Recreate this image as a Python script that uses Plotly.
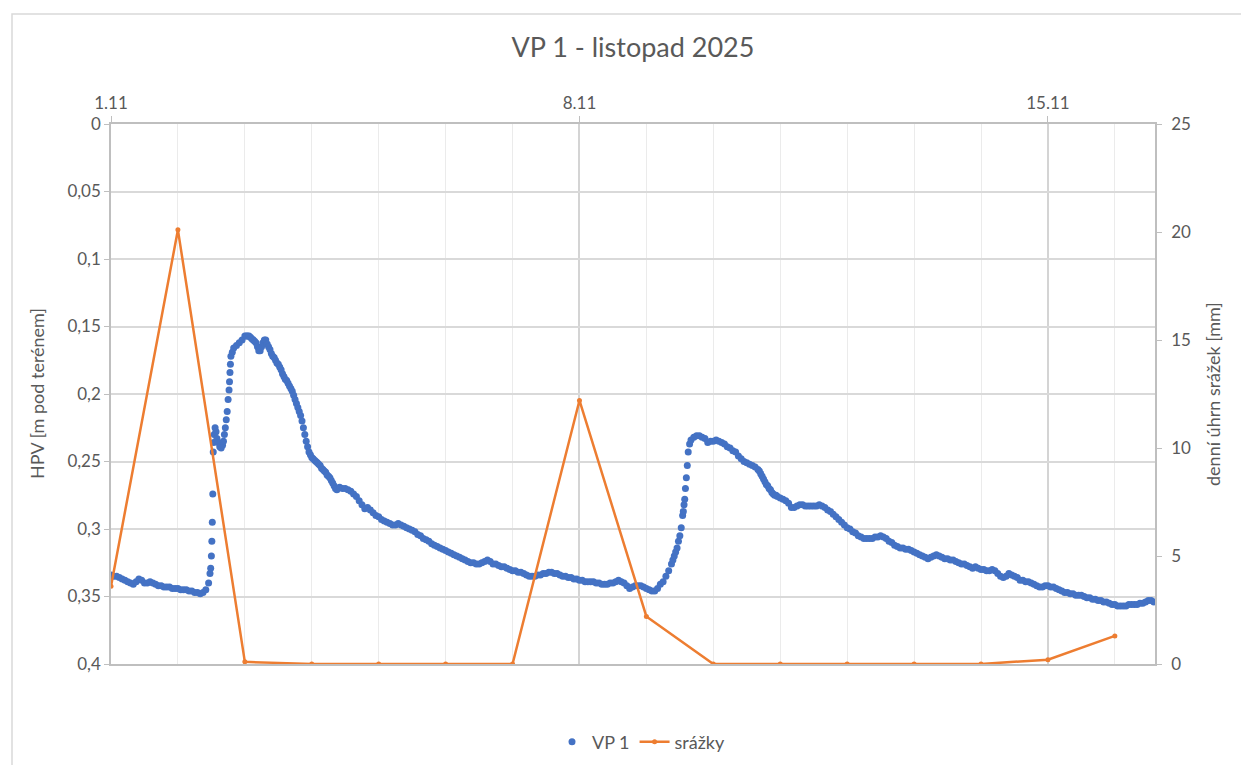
import pandas as pd
import plotly.graph_objects as go

# --- data -------------------------------------------------------------
start = pd.Timestamp("2025-11-01 00:00")

# hourly groundwater level readings for VP 1 [m below ground], one row per day
hpv_hourly = [
    0.334, 0.335, 0.335, 0.336, 0.337, 0.338, 0.339, 0.340, 0.341, 0.339, 0.337, 0.338, 0.340, 0.340, 0.339, 0.340, 0.341, 0.342, 0.342, 0.343, 0.343, 0.343, 0.344, 0.344,
    0.344, 0.345, 0.345, 0.345, 0.346, 0.346, 0.347, 0.347, 0.348, 0.347, 0.345, 0.340, 0.320, 0.230, 0.233, 0.239, 0.238, 0.225, 0.204, 0.172, 0.166, 0.164, 0.162, 0.160,
    0.157, 0.157, 0.158, 0.160, 0.162, 0.168, 0.165, 0.160, 0.163, 0.167, 0.172, 0.175, 0.178, 0.182, 0.187, 0.190, 0.194, 0.198, 0.204, 0.210, 0.216, 0.225, 0.235, 0.243,
    0.247, 0.249, 0.251, 0.253, 0.256, 0.258, 0.261, 0.264, 0.268, 0.271, 0.269, 0.270, 0.270, 0.271, 0.272, 0.274, 0.276, 0.279, 0.282, 0.285, 0.284, 0.286, 0.288, 0.290,
    0.291, 0.293, 0.294, 0.295, 0.296, 0.297, 0.297, 0.296, 0.297, 0.298, 0.299, 0.300, 0.301, 0.302, 0.304, 0.305, 0.307, 0.308, 0.309, 0.311, 0.312, 0.313, 0.314, 0.315,
    0.316, 0.317, 0.318, 0.319, 0.320, 0.321, 0.322, 0.323, 0.324, 0.325, 0.325, 0.326, 0.326, 0.325, 0.324, 0.323, 0.324, 0.326, 0.326, 0.327, 0.328, 0.328, 0.329, 0.330,
    0.331, 0.331, 0.332, 0.332, 0.333, 0.334, 0.335, 0.335, 0.335, 0.334, 0.334, 0.333, 0.333, 0.332, 0.332, 0.333, 0.333, 0.334, 0.335, 0.335, 0.336, 0.336, 0.337, 0.337,
    0.338, 0.338, 0.339, 0.339, 0.339, 0.339, 0.340, 0.340, 0.341, 0.341, 0.341, 0.340, 0.340, 0.339, 0.338, 0.339, 0.340, 0.342, 0.344, 0.343, 0.342, 0.342, 0.342, 0.343,
    0.344, 0.345, 0.346, 0.346, 0.344, 0.341, 0.339, 0.335, 0.331, 0.326, 0.320, 0.314, 0.305, 0.290, 0.270, 0.243, 0.234, 0.232, 0.231, 0.231, 0.232, 0.233, 0.236, 0.235,
    0.235, 0.234, 0.235, 0.236, 0.237, 0.239, 0.240, 0.242, 0.243, 0.246, 0.248, 0.250, 0.251, 0.252, 0.253, 0.254, 0.256, 0.259, 0.263, 0.267, 0.270, 0.273, 0.275, 0.276,
    0.277, 0.278, 0.279, 0.281, 0.284, 0.284, 0.283, 0.282, 0.282, 0.283, 0.283, 0.283, 0.283, 0.283, 0.282, 0.283, 0.284, 0.286, 0.287, 0.289, 0.291, 0.293, 0.295, 0.297,
    0.299, 0.300, 0.302, 0.303, 0.305, 0.306, 0.307, 0.307, 0.307, 0.307, 0.306, 0.306, 0.305, 0.306, 0.307, 0.309, 0.310, 0.312, 0.313, 0.314, 0.314, 0.315, 0.315, 0.316,
    0.317, 0.318, 0.319, 0.320, 0.321, 0.322, 0.321, 0.320, 0.319, 0.320, 0.321, 0.322, 0.322, 0.323, 0.323, 0.324, 0.325, 0.326, 0.326, 0.327, 0.328, 0.329, 0.328, 0.329,
    0.330, 0.330, 0.331, 0.331, 0.330, 0.331, 0.333, 0.335, 0.336, 0.335, 0.333, 0.334, 0.335, 0.336, 0.338, 0.338, 0.339, 0.339, 0.340, 0.341, 0.342, 0.343, 0.343, 0.342,
    0.342, 0.343, 0.343, 0.344, 0.345, 0.346, 0.347, 0.347, 0.348, 0.348, 0.349, 0.349, 0.349, 0.350, 0.351, 0.351, 0.352, 0.352, 0.353, 0.353, 0.354, 0.354, 0.355, 0.356,
    0.356, 0.357, 0.357, 0.357, 0.357, 0.356, 0.356, 0.356, 0.356, 0.355, 0.355, 0.354, 0.353, 0.353, 0.354,
]

# denser readings logged during the rapid changes (hours since 1.11 00:00)
rise_hours = [35.5, 35.75, 36.17, 36.33, 36.5, 36.67, 36.83, 37.33, 37.67, 38.5, 39.5,
              40.33, 40.67, 41.33, 41.67, 42.33, 42.5, 42.67, 42.83, 43.5,
              48.5, 49.5, 50.5, 51.5, 52.5, 53.5, 54.5, 55.5, 56.5, 57.5, 58.5, 59.5,
              60.5, 61.5, 62.5, 63.5, 64.5, 65.5, 66.5, 67.5, 68.5, 69.5, 70.5, 71.5,
              72.5, 73.5, 74.5, 75.5, 76.5, 77.5, 78.5, 79.5, 80.5,
              201.5, 202.5, 203.5, 204.5, 205.25, 205.5, 205.75, 206.33, 206.67, 207.5,
              232.5, 233.5, 234.5, 235.5, 236.5, 237.5, 238.5]
rise_hpv = [0.333, 0.329, 0.309, 0.295, 0.274, 0.243, 0.236, 0.225, 0.228, 0.236, 0.240,
            0.235, 0.230, 0.219, 0.213, 0.197, 0.191, 0.184, 0.178, 0.169,
            0.157, 0.157, 0.159, 0.161, 0.165, 0.168, 0.162, 0.160, 0.165, 0.170, 0.173, 0.177,
            0.180, 0.185, 0.189, 0.192, 0.196, 0.201, 0.207, 0.213, 0.220, 0.230, 0.239, 0.245,
            0.248, 0.250, 0.252, 0.255, 0.257, 0.260, 0.262, 0.266, 0.270,
            0.323, 0.317, 0.309, 0.299, 0.287, 0.282, 0.278, 0.262, 0.253, 0.237,
            0.257, 0.261, 0.265, 0.268, 0.271, 0.274, 0.275]

# daily precipitation totals [mm], 1.11 – 16.11
srazky_mm = [3.6, 20.1, 0.1, 0.0, 0.0, 0.0, 0.0, 12.2, 2.2, 0.0, 0.0, 0.0, 0.0, 0.0, 0.2, 1.3]

hpv_ticks = [0, 0.05, 0.1, 0.15, 0.2, 0.25, 0.3, 0.35, 0.4]

# --- assemble series ---------------------------------------------------
vp = pd.DataFrame({
    "t": [start + pd.Timedelta(hours=h) for h in range(len(hpv_hourly))]
         + [start + pd.Timedelta(hours=h) for h in rise_hours],
    "hpv": hpv_hourly + rise_hpv,
}).sort_values("t")

days = [start + pd.Timedelta(days=i) for i in range(len(srazky_mm))]

GREY_TXT = "#595959"
FONT = "Lato, 'Open Sans', sans-serif"

fig = go.Figure()
fig.add_trace(go.Scatter(
    x=vp["t"], y=vp["hpv"], mode="markers", name="VP 1",
    marker=dict(color="#4472C4", size=7),
    yaxis="y",
))
fig.add_trace(go.Scatter(
    x=days, y=srazky_mm, mode="lines+markers", name="srážky",
    line=dict(color="#ED7D31", width=2.5),
    marker=dict(color="#ED7D31", size=5),
    yaxis="y2",
))

W, H = 1241, 765
L, R, T, B = 111, 86, 124, 101
PW = W - L - R

fig.update_layout(
    width=W, height=H,
    margin=dict(l=L, r=R, t=T, b=B, autoexpand=False),
    paper_bgcolor="white", plot_bgcolor="white",
    font=dict(family=FONT, color=GREY_TXT, size=17),
    title=dict(text="VP 1 - listopad 2025", x=0.5, xref="paper", xanchor="center",
               y=1 - 48 / H, yanchor="middle",
               font=dict(size=27, color=GREY_TXT, family=FONT)),
    showlegend=True,
    legend=dict(orientation="h", x=(641 - L) / PW, xanchor="center",
                y=1 - 742 / H, yref="container", yanchor="middle",
                font=dict(size=18, color=GREY_TXT), bgcolor="rgba(0,0,0,0)",
                itemwidth=30, traceorder="normal"),
    xaxis=dict(
        side="top", type="date",
        range=[start, start + pd.Timedelta(days=15.6)],
        tick0=start, dtick=7 * 86400000, tickformat="%-d.%-m",
        showgrid=True, gridcolor="#d4d4d4", gridwidth=1.5,
        minor=dict(dtick=86400000, tick0=start, showgrid=True, gridcolor="#ebebeb", gridwidth=1.2),
        ticks="outside", ticklen=6, tickcolor="#bfbfbf",
        showline=True, linecolor="#bfbfbf", linewidth=1.5, mirror=True,
        zeroline=False, tickfont=dict(size=17, color=GREY_TXT),
    ),
    yaxis=dict(
        range=[0.4, 0], tickvals=hpv_ticks,
        ticktext=[("%g" % v).replace(".", ",") for v in hpv_ticks],
        showgrid=True, gridcolor="#d9d9d9", gridwidth=1.5,
        showline=True, linecolor="#bfbfbf", linewidth=1.5,
        ticks="outside", ticklen=5, tickcolor="#bfbfbf",
        zeroline=False, tickfont=dict(size=17, color=GREY_TXT),
    ),
    yaxis2=dict(
        overlaying="y", side="right", range=[0, 25], dtick=5, tick0=0,
        showgrid=False, zeroline=False,
        showline=True, linecolor="#bfbfbf", linewidth=1.5,
        ticks="outside", ticklen=5, tickcolor="#bfbfbf", ticklabelstandoff=6,
        tickfont=dict(size=17, color=GREY_TXT),
    ),
)

# axis titles
fig.add_annotation(text="HPV [m pod terénem]", xref="paper", yref="paper",
                   x=(37 - L) / PW, y=0.5, xanchor="center", yanchor="middle",
                   textangle=-90, showarrow=False,
                   font=dict(size=18, color=GREY_TXT))
fig.add_annotation(text="denní úhrn srážek [mm]", xref="paper", yref="paper",
                   x=(1213 - L) / PW, y=0.5, xanchor="center", yanchor="middle",
                   textangle=-90, showarrow=False,
                   font=dict(size=18, color=GREY_TXT))

# chart area frame
fig.add_shape(type="rect", xref="paper", yref="paper",
              x0=(12 - L) / PW, x1=(1260 - L) / PW,
              y0=(H - B - 790) / (H - T - B), y1=(H - B - 14) / (H - T - B),
              line=dict(color="#d9d9d9", width=1.5), fillcolor="rgba(0,0,0,0)", layer="below")

fig.write_html("out.html")
